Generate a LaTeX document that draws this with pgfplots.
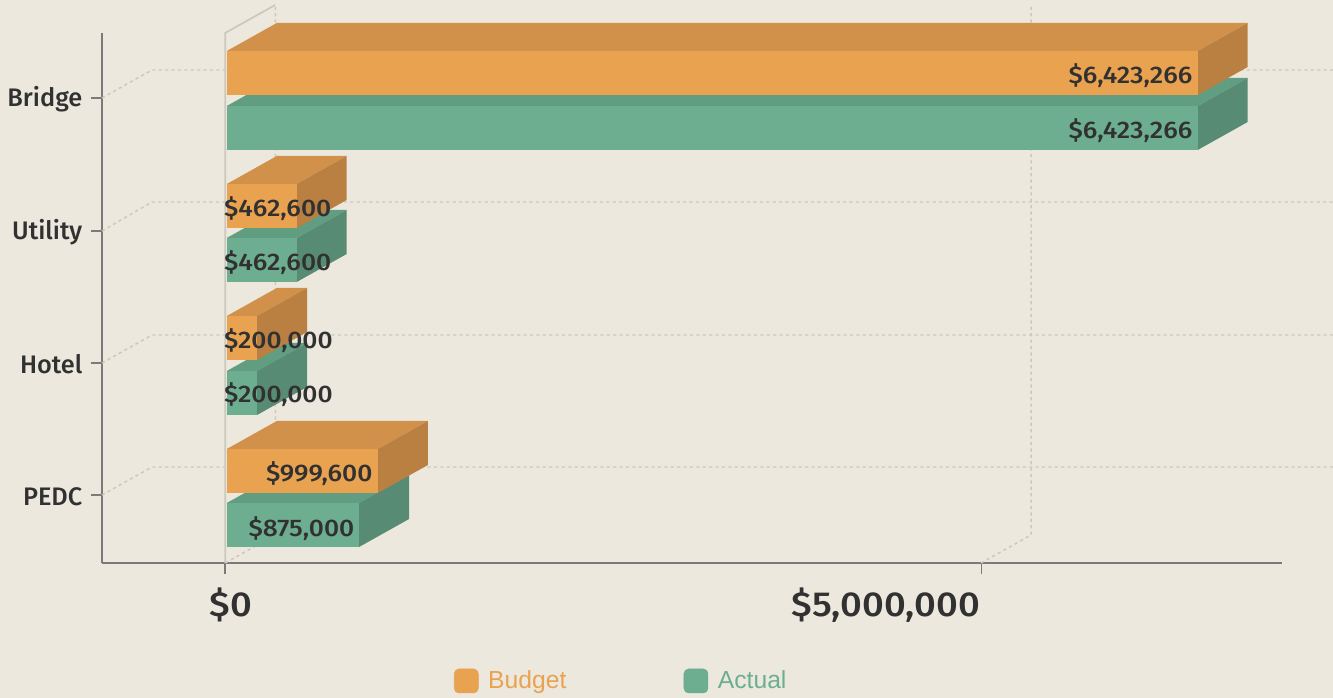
\documentclass[border=0pt]{standalone}
\usepackage{pgfplots}
\pgfplotsset{compat=1.18}
\usepackage{fontspec}
\setmainfont{Fira Sans}
\newfontfamily\fm{Fira Sans Medium}
\newfontfamily\fw[FakeStretch=1.1]{Fira Sans Medium}
\newfontfamily\ar{Liberation Sans}
\definecolor{bg}{HTML}{ECE8DE}
\definecolor{axisc}{HTML}{7A7A7A}
\definecolor{gridc}{HTML}{CBC8BE}
\definecolor{txt}{HTML}{313131}
\definecolor{of}{HTML}{E9A250}
\definecolor{ot}{HTML}{D1914A}
\definecolor{os}{HTML}{BA8041}
\definecolor{gf}{HTML}{6DAE90}
\definecolor{gt}{HTML}{619D81}
\definecolor{gs}{HTML}{578B73}
% value, y of front top, y of front bottom (from the foot of the picture), colour prefix
\newcommand{\boxbar}[4]{%
  \edef\vv{#1}%
  \edef\vd{\the\numexpr#1+330800\relax}%
  \edef\yt{#2}\edef\yb{#3}%
  \edef\ytd{\the\numexpr#2+28\relax}\edef\ybd{\the\numexpr#3+28\relax}%
  \edef\cmd{\noexpand\addplot[forget plot,draw=none,fill=#4t] coordinates {(0,\yt)(\vv,\yt)(\vd,\ytd)(330800,\ytd)} --cycle;
  \noexpand\addplot[forget plot,draw=none,fill=#4s] coordinates {(\vv,\yt)(\vd,\ytd)(\vd,\ybd)(\vv,\yb)} --cycle;
  \noexpand\addplot[forget plot,draw=none,fill=#4f] coordinates {(0,\yt)(\vv,\yt)(\vv,\yb)(0,\yb)} --cycle;}%
  \cmd
}
\begin{document}
\begin{tikzpicture}
\path[use as bounding box] (0,0) rectangle (999.75pt,523.5pt);
\fill[bg] (0,0) rectangle (999.75pt,523.5pt);
\begin{axis}[
  at={(76.5pt,101.25pt)}, anchor=south west,
  scale only axis, width=885pt, height=397.5pt,
  xmin=-825670, xmax=6981145, ymin=135, ymax=665,
  clip=false,
  axis x line*=bottom, axis y line*=left,
  axis line style={-,draw=axisc,line width=1.5pt},
  tick style={draw=axisc,line width=1.5pt},
  x tick style={xshift=-1.1pt},
  tick align=outside, major tick length=8.25pt,
  scaled x ticks=false,
  xtick={0}, xticklabels={\makebox[0pt][c]{\hspace{6pt}\$0}},
  extra x ticks={5000000},
  extra x tick labels={\makebox[0pt][r]{\$5,000,000\hspace{2pt}}},
  extra x tick style={tick style={line width=.75pt}},
  x tick label style={font=\fw\fontsize{26}{26}\selectfont,text=txt,yshift=-7pt},
  ytick={203,335,467,600},
  yticklabels={PEDC,Hotel,Utility,Bridge},
  y tick label style={font=\fm\fontsize{19}{20}\selectfont,text=txt,anchor=east,xshift=-3pt,yshift=-1pt},
  legend style={at={(0.4403,-0.2226)},anchor=center,draw=none,fill=none,
    legend columns=2,font=\ar\fontsize{18.5}{20}\selectfont,
    /tikz/every odd column/.append style={column sep=5.25pt},
    /tikz/every even column/.append style={column sep=86pt}},
  legend cell align=left,
]
% floor and wall lines
\addplot[forget plot,gridc,line width=1.1pt,dash pattern=on 2.4pt off 2.4pt] coordinates {(-825670,600)(-494800,628)(7323850,628)};
\addplot[forget plot,gridc,line width=1.1pt,dash pattern=on 2.4pt off 2.4pt] coordinates {(-825670,467)(-494800,496)(7323850,496)};
\addplot[forget plot,gridc,line width=1.1pt,dash pattern=on 2.4pt off 2.4pt] coordinates {(-825670,335)(-494800,363)(7323850,363)};
\addplot[forget plot,gridc,line width=1.1pt,dash pattern=on 2.4pt off 2.4pt] coordinates {(-825670,203)(-494800,231)(7323850,231)};
\addplot[forget plot,gridc,line width=1.1pt,dash pattern=on 2.4pt off 2.4pt] coordinates {(-10000,135)(320800,163)(320800,693)};
\addplot[forget plot,gridc,line width=1.1pt,dash pattern=on 2.4pt off 2.4pt] coordinates {(4990000,135)(5320800,163)(5320800,693)};
\addplot[forget plot,gridc,line width=1.3pt] coordinates {(-11000,135)(-11000,665)(320000,693)};
% Bridge
\boxbar{6423266}{592}{548}{g}
\boxbar{6423266}{647}{603}{o}
% Utility
\boxbar{462600}{460}{416}{g}
\boxbar{462600}{514}{470}{o}
% Hotel
\boxbar{200000}{327}{283}{g}
\boxbar{200000}{382}{338}{o}
% PEDC
\boxbar{875000}{195}{151}{g}
\boxbar{999600}{249}{205}{o}
% value labels
\begin{scope}[every node/.style={font=\fw\fontsize{18}{20}\selectfont,text=txt,inner sep=0pt}]
\node[anchor=east] at (axis cs:6390000,622.5) {\$6,423,266};
\node[anchor=east] at (axis cs:6390000,567.5) {\$6,423,266};
\node[anchor=west] at (axis cs:-20000,489.5) {\$462,600};
\node[anchor=west] at (axis cs:-20000,435.5) {\$462,600};
\node[anchor=west] at (axis cs:-20000,357.5) {\$200,000};
\node[anchor=west] at (axis cs:-20000,303.5) {\$200,000};
\node[anchor=east] at (axis cs:965000,224.5) {\$999,600};
\node[anchor=east] at (axis cs:845000,169.5) {\$875,000};
\end{scope}
% legend
\addlegendimage{legend image code/.code={\fill[of,rounded corners=3.5pt] (0pt,-9pt) rectangle (18pt,9pt);}}
\addlegendentry{\textcolor{of}{Budget}}
\addlegendimage{legend image code/.code={\fill[gf,rounded corners=3.5pt] (0pt,-9pt) rectangle (18pt,9pt);}}
\addlegendentry{\textcolor{gf}{Actual}}
\end{axis}
\end{tikzpicture}
\end{document}
